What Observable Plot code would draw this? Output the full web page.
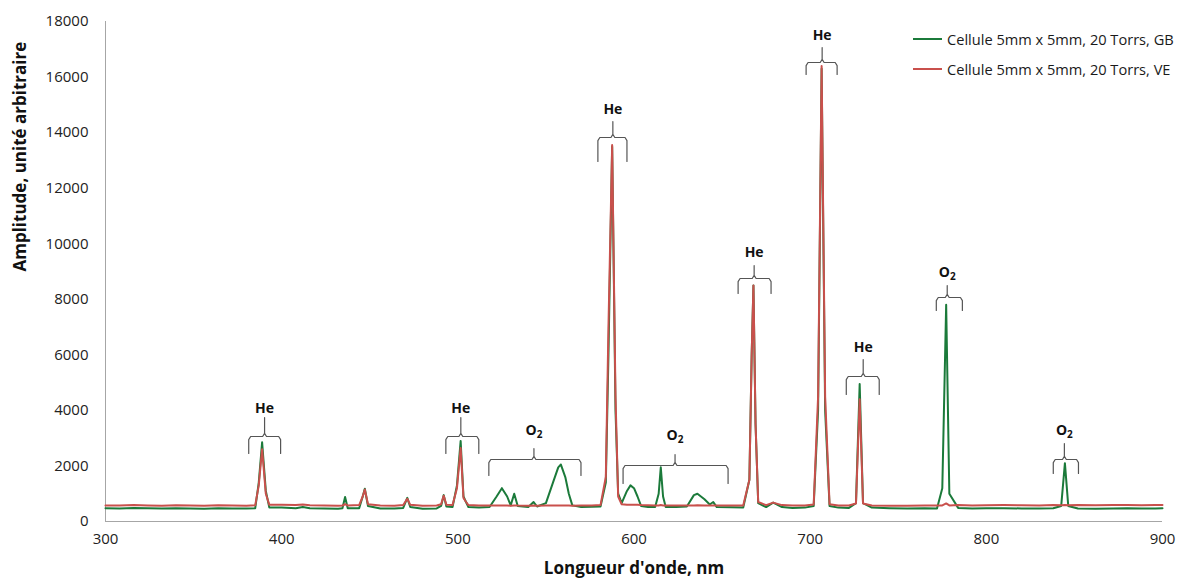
<!DOCTYPE html>
<html>
<head>
<meta charset="utf-8">
<script src="https://cdn.jsdelivr.net/npm/d3@7"></script>
<script src="https://cdn.jsdelivr.net/npm/@observablehq/plot@0.6"></script>
<style>
  html, body { margin: 0; padding: 0; background: #fff; }
  #wrap { position: relative; width: 1186px; height: 583px; font-family: "Open Sans", sans-serif; }
  #legend { position: absolute; left: 913px; top: 24px; font-size: 14.6px; color: #1a1a1a; }
  .item { display: flex; align-items: center; height: 30px; white-space: nowrap; }
  .sw { width: 29px; height: 2px; margin-right: 5px; }
</style>
</head>
<body>
<div id="wrap"><div id="chart"></div><div id="legend"></div></div>
<script>
// Wavelength (nm)
const wavelength = [300,308,316,324,332,340,348,356,364,372,380,385,387,388.9,391,393,400,408,412,416,424,432,434.5,436,437.5,444,446,447.2,449,456,464,469,471.3,473,480,488,490.5,492,493.5,497,499.5,501.6,503.2,504.5,506,512,518,522,525,528,530,532,534,540,543,545,550,554,557,558.5,561,563,565,570,576,581,584,585.5,587.6,589.5,591,593,596,598,600,602,604,608,612,614,615.2,616.5,618,624,630,634,636,640,643,645,647,655,662,665.5,666.8,667.8,669,670.5,675,679,684,690,697,702,704.5,706.5,708.5,711,716,722,726,728.1,730,735,745,755,765,772,775,777.2,779,784,792,800,810,820,830,838,842.5,844.6,846.5,852,862,872,880,888,896,900];
// Series "Cellule 5mm x 5mm, 20 Torrs, GB"
const ampGB = [480,470,485,475,465,480,470,462,475,470,468,480,1400,2850,1100,500,500,480,520,480,470,462,480,880,480,480,900,1180,560,470,465,490,850,520,462,470,560,950,540,520,1300,2900,900,720,520,500,520,900,1200,900,580,1000,560,520,700,540,660,1400,1950,2050,1600,1000,580,520,530,540,1400,6000,13500,4000,1000,660,1100,1300,1200,900,560,520,520,1000,1950,900,520,520,540,950,1000,800,610,700,520,510,500,1500,6000,8500,3500,660,520,680,520,490,500,560,4000,16300,4000,560,500,490,660,4950,660,500,480,470,480,470,1200,7800,1000,490,470,475,480,470,465,475,560,2100,560,470,460,470,480,465,470,475];
// Series "Cellule 5mm x 5mm, 20 Torrs, VE"
const ampVE = [580,575,590,580,570,585,575,570,585,575,570,585,1300,2600,1000,600,600,590,610,585,580,570,575,620,580,590,900,1150,620,575,570,590,820,600,570,575,620,930,600,590,1200,2650,850,720,590,580,575,580,580,575,570,580,575,570,575,570,575,580,580,580,580,580,570,575,580,590,1600,7000,13550,4500,900,620,600,600,600,600,590,585,580,580,590,580,575,580,580,580,585,580,575,580,575,575,575,1500,6000,8500,3500,700,590,680,590,580,580,610,4500,16400,4500,620,580,575,650,4400,650,575,570,570,575,575,580,650,580,590,580,585,590,585,580,590,585,590,585,590,585,590,595,585,590,590];

const seriesNames = ["Cellule 5mm x 5mm, 20 Torrs, GB", "Cellule 5mm x 5mm, 20 Torrs, VE"];
const seriesColors = ["#1b7a3a", "#c9504c"];

const xTicks = [300,400,500,600,700,800,900];
const yTicks = [0,2000,4000,6000,8000,10000,12000,14000,16000,18000];

// Bracket annotations (nm, amplitude)
const annLabel  = ["He","He","O₂","He","O₂","He","He","He","O₂","O₂"];
const annLeft   = [381.3,493.2,517.6,579.5,593.8,659.1,697.7,720.5,771.6,838.0];
const annRight  = [399.4,511.9,569.9,596.0,653.4,677.8,715.3,739.2,786.4,852.3];
const annCenter = [390.3,501.7,543.2,588.0,623.3,668.2,706.8,730.1,777.8,844.3];
const annBottom = [2448,2448,1656,12960,1368,8208,16092,4572,7596,1728];
const annMid    = [3060,3060,2232,13824,2016,8748,16524,5220,8064,2232];
const annTip    = [3744,3744,2628,14400,2412,9216,17064,5832,8496,2808];
const annText   = [4068,4068,3276,14832,3096,9684,17496,6264,8964,3276];

const rows = [];
wavelength.forEach((w, i) => {
  rows.push({wl: w, amp: ampGB[i], s: seriesNames[0]});
});
wavelength.forEach((w, i) => {
  rows.push({wl: w, amp: ampVE[i], s: seriesNames[1]});
});

// brace paths built from the annotation arrays
const dx = 1.1, dy = 110;
const braces = [];
annLabel.forEach((lab, i) => {
  const x0 = annLeft[i], x1 = annRight[i], xc = annCenter[i];
  const yb = annBottom[i], ym = annMid[i], yt = annTip[i];
  const pts = [
    [x0, yb], [x0, ym - dy], [x0 + dx, ym], [xc - dx, ym], [xc, ym + dy], [xc, yt],
    [xc, ym + dy], [xc + dx, ym], [x1 - dx, ym], [x1, ym - dy], [x1, yb]
  ];
  pts.forEach(([x, y], k) => braces.push({id: i, k, x, y}));
});
const labels = annLabel.map((t, i) => ({t, x: annCenter[i], y: annText[i]}));

const font = "'Open Sans', sans-serif";
const chart = Plot.plot({
  width: 1186,
  height: 583,
  marginLeft: 105,
  marginRight: 24,
  marginTop: 21,
  marginBottom: 62,
  style: {fontFamily: font, background: "#fff", overflow: "visible"},
  x: {domain: [300, 900]},
  y: {domain: [0, 18000]},
  color: {domain: seriesNames, range: seriesColors},
  marks: [
    Plot.axisX({ticks: xTicks, tickSize: 0, tickPadding: 12, fontSize: 15, fill: "#222", label: null}),
    Plot.axisY({ticks: yTicks, tickSize: 0, tickPadding: 17, fontSize: 15, fill: "#222", tickFormat: d => String(d), label: null}),
    Plot.ruleX([300], {stroke: "#a6a6a6", strokeWidth: 1}),
    Plot.ruleY([0], {stroke: "#a6a6a6", strokeWidth: 1}),
    Plot.line(rows, {x: "wl", y: "amp", z: "s", stroke: "s", strokeWidth: 2, strokeLinejoin: "round"}),
    Plot.line(braces, {x: "x", y: "y", z: "id", stroke: "#555", strokeWidth: 1.2, curve: "linear"}),
    Plot.text(labels, {x: "x", y: "y", text: "t", fontWeight: "bold", fontSize: 14, fill: "#111", className: "annlab"}),
    Plot.text(["Longueur d'onde, nm"], {frameAnchor: "bottom", dy: 52, fontWeight: "bold", fontSize: 17, fill: "#111"}),
    Plot.text(["Amplitude, unité arbitraire"], {frameAnchor: "left", dx: -85, rotate: -90, fontWeight: "bold", fontSize: 17, fill: "#111"})
  ]
});
document.getElementById("chart").appendChild(chart);

// render the O₂ labels with a real subscript
d3.select(chart).selectAll("text").each(function() {
  const el = d3.select(this);
  if (el.text() === "O₂") {
    el.text("O");
    el.append("tspan").attr("dy", "0.3em").attr("font-size", "10px").text("2");
  }
});

const lg = document.getElementById("legend");
seriesNames.forEach((n, i) => {
  const it = document.createElement("div");
  it.className = "item";
  const sw = document.createElement("div");
  sw.className = "sw";
  sw.style.background = seriesColors[i];
  const tx = document.createElement("span");
  tx.textContent = n;
  it.appendChild(sw); it.appendChild(tx);
  lg.appendChild(it);
});
</script>
</body>
</html>
